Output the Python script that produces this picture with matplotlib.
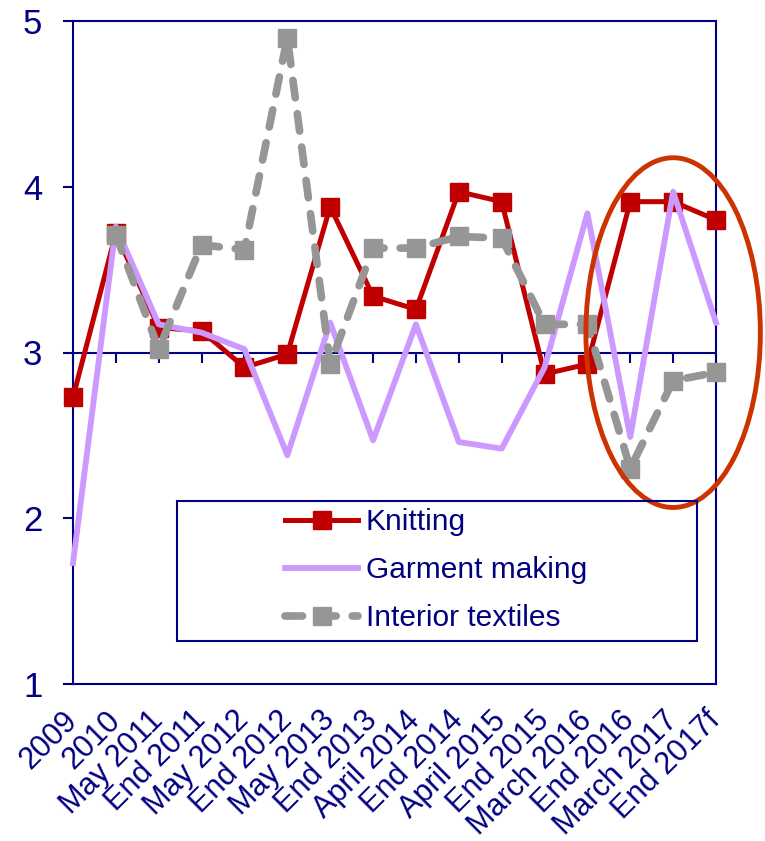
import matplotlib
matplotlib.use('Agg')
import matplotlib.pyplot as plt
from matplotlib.patches import Ellipse, Rectangle
import numpy as np

plt.rcParams['font.family'] = ['Liberation Sans', 'DejaVu Sans']

NAVY = '#000080'

periods = ['2009', '2010', 'May 2011', 'End 2011', 'May 2012', 'End 2012',
           'May 2013', 'End 2013', 'April 2014', 'End 2014', 'April 2015',
           'End 2015', 'March 2016', 'End 2016', 'March 2017', 'End 2017f']

knitting = [2.73, 3.72, 3.15, 3.13, 2.91, 2.99, 3.88, 3.34, 3.26, 3.97,
            3.91, 2.87, 2.93, 3.91, 3.91, 3.80]
garment = [1.73, 3.76, 3.17, 3.12, 3.02, 2.38, 3.18, 2.47, 3.17, 2.46,
           2.42, 2.91, 3.84, 2.49, 3.97, 3.18]
# no 2009 figure for interior textiles
interior = [np.nan, 3.71, 3.02, 3.65, 3.62, 4.90, 2.93, 3.63, 3.63, 3.70,
            3.69, 3.17, 3.17, 2.30, 2.83, 2.88]

x = np.arange(len(periods))

fig = plt.figure(figsize=(7.65, 8.41), dpi=100)
ax = fig.add_axes([73 / 765, 1 - 684 / 841, 643 / 765, 663 / 841])

ax.plot(x, knitting, color='#C00000', lw=3.6, marker='s', ms=12.5,
        label='Knitting', clip_on=False, zorder=3)
ax.plot(x, garment, color='#CC99FF', lw=4.2, label='Garment making',
        clip_on=False, zorder=4)
ax.plot(x, interior, color='#969696', lw=5.5, ls=(0, (2.3, 2.1)),
        dash_capstyle='round', marker='s', ms=12.5, label='Interior textiles',
        clip_on=False, zorder=5)

# category axis crosses at 3, with downward tick marks
ax.axhline(3, color=NAVY, lw=1.5, zorder=2)
ax.plot(x, np.full(len(x), 3.0), ls='none', marker=3, ms=7, mew=1.5,
        color=NAVY, clip_on=False, zorder=2)

ax.set_xlim(0, len(periods) - 1)
ax.set_ylim(1, 5)
ax.set_yticks([1, 2, 3, 4, 5])
ax.set_xticks(x)
ax.set_xticklabels(periods, rotation=45, ha='right', va='center',
                   rotation_mode='anchor', fontsize=22, color=NAVY)
ax.tick_params(axis='x', length=0, pad=23)
ax.tick_params(axis='y', direction='out', length=7, width=1.5, color=NAVY,
               labelsize=25, labelcolor=NAVY, pad=15)
for s in ax.spines.values():
    s.set_color(NAVY)
    s.set_linewidth(1.5)

# highlight of the last three periods
ax.add_patch(Ellipse((14, 3.12), 4.07, 2.11, fill=False, ec='#CC3300',
                     lw=3.5, clip_on=False, zorder=6))

# legend with its own wide frame
fig.patches.append(Rectangle((177 / 765, 1 - 641 / 841), 520 / 765, 140 / 841,
                             transform=fig.transFigure, fill=False,
                             ec=NAVY, lw=1.5))
leg = ax.legend(loc='center left', bbox_to_anchor=(285 / 765, 1 - 570 / 841),
                bbox_transform=fig.transFigure, frameon=False, fontsize=21.5,
                handlelength=2.45, handletextpad=0.25, labelspacing=0.67,
                borderpad=0, borderaxespad=0, numpoints=1)
for t in leg.get_texts():
    t.set_color(NAVY)

fig.savefig('out.png', dpi=100)
